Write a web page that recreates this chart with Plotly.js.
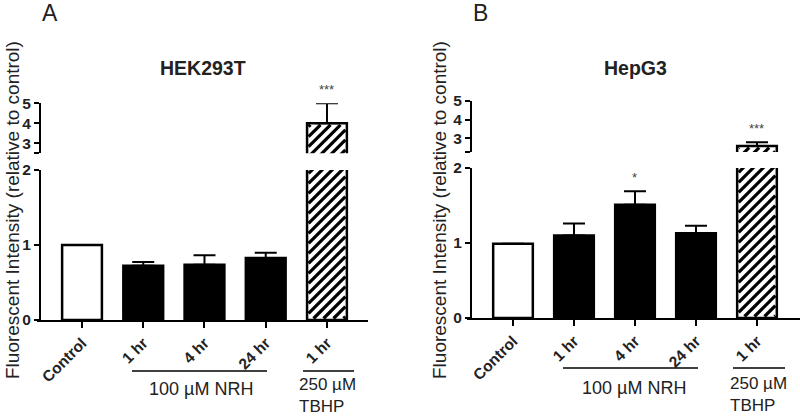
<!DOCTYPE html>
<html>
<head>
<meta charset="utf-8">
<script src="https://cdn.plot.ly/plotly-3.0.1.min.js"></script>
<style>html,body{margin:0;padding:0;background:#fff;}#chart{width:800px;height:417px;}</style>
</head>
<body>
<div id="chart"></div>
<script>
// ---- data ----
var categories = ["Control", "1 hr", "4 hr", "24 hr", "1 hr"];
var hekValues = [1.0, 0.724, 0.737, 0.827, 4.0];
var hekErrors = [0, 0.05, 0.125, 0.07, 1.0];
var hepValues = [0.99, 1.10, 1.51, 1.13, 2.57];
var hepErrors = [0, 0.16, 0.18, 0.10, 0.21];
var hekStars = ["", "", "", "", "***"];
var hepStars = ["", "", "*", "", "***"];
var lowerTicks = [0, 1, 2];
var upperTicksA = [2.5, 3, 4, 5];
var upperTicksB = [2.25, 3, 4, 5];
var upperTickText = ["", "3", "4", "5"];
var fillColors = ["white", "black", "black", "black", "white"];
var hatched = [false, false, false, false, true];

var FONT = "Liberation Sans, Arial, sans-serif";
var BAR_W = 0.65;
var idx = categories.map(function (c, i) { return i; });

function barTrace(xa, ya, vals, errs, wantHatch, withErr) {
  var xs = [], ys = [], es = [], em = [], cols = [];
  for (var i = 0; i < vals.length; i++) {
    if (hatched[i] !== wantHatch) continue;
    xs.push(i); ys.push(vals[i]);
    es.push(errs[i]); em.push(0);
    cols.push(fillColors[i]);
  }
  return {
    type: "bar", x: xs, y: ys, xaxis: xa, yaxis: ya, width: BAR_W,
    marker: { color: cols, line: { color: "black", width: 2.5 } },
    error_y: { type: "data", symmetric: false, array: es, arrayminus: em, color: "black", thickness: 2, width: 11, visible: withErr },
    showlegend: false, hoverinfo: "skip"
  };
}

var data = [
  barTrace("x", "y", hekValues, hekErrors, false, true),
  barTrace("x", "y", hekValues, hekErrors, true, false),
  barTrace("x", "y2", hekValues, hekErrors, true, true),
  barTrace("x2", "y3", hepValues, hepErrors, false, true),
  barTrace("x2", "y3", hepValues, hepErrors, true, false),
  barTrace("x2", "y4", hepValues, hepErrors, true, true)
];

function yAx(domain, range, tv, tt, pos) {
  return {
    domain: domain, range: range, anchor: "free", position: pos,
    tickmode: "array", tickvals: tv, ticktext: tt,
    showline: true, linecolor: "black", linewidth: 2,
    ticks: "outside", ticklen: 5, tickwidth: 2, tickcolor: "black",
    showgrid: false, zeroline: false,
    tickfont: { family: FONT, size: 15.5, color: "#222", weight: "bold" }
  };
}
function xAx(domain, range, anchor) {
  return {
    domain: domain, range: range, anchor: anchor,
    tickmode: "array", tickvals: idx, ticktext: categories,
    tickangle: -45,
    showline: true, linecolor: "black", linewidth: 2,
    ticks: "outside", ticklen: 6, tickwidth: 2, tickcolor: "black",
    showgrid: false, zeroline: false,
    tickfont: { family: FONT, size: 15.5, color: "#222", weight: "bold" }
  };
}

var annotations = [];
function starAnn(xa, yaLow, yaHigh, vals, errs, stars) {
  for (var i = 0; i < stars.length; i++) {
    if (!stars[i]) continue;
    annotations.push({
      xref: xa, yref: hatched[i] ? yaHigh : yaLow, x: i, y: vals[i] + errs[i],
      text: stars[i], showarrow: false, yanchor: "bottom", yshift: 4,
      font: { family: FONT, size: 13, color: "#444" }
    });
  }
}
starAnn("x", "y", "y2", hekValues, hekErrors, hekStars);
starAnn("x2", "y3", "y4", hepValues, hepErrors, hepStars);

function txt(x, y, t, size, opts) {
  var a = { xref: "paper", yref: "paper", x: x / 800, y: 1 - y / 417, text: t, showarrow: false,
    font: { family: FONT, size: size, color: "#222" }, xanchor: "center", yanchor: "middle" };
  for (var k in opts) a[k] = opts[k];
  annotations.push(a);
}
txt(50, 13, "A", 23, {});
txt(480, 13, "B", 23, {});
txt(203, 68, "<b>HEK293T</b>", 19.5, {});
txt(635, 68, "<b>HepG3</b>", 19.5, {});
txt(12, 210, "Fluorescent Intensity (relative to control)", 19, { textangle: -90 });
txt(439, 210, "Fluorescent Intensity (relative to control)", 19, { textangle: -90 });
txt(201, 389, "100 µM NRH", 18, {});
txt(634, 388, "100 µM NRH", 18, {});
txt(297, 395, "250 µM<br>TBHP", 17, { xanchor: "left", align: "left" });
txt(728, 394, "250 µM<br>TBHP", 17, { xanchor: "left", align: "left" });

function hline(x0, x1, y) {
  return { type: "line", xref: "paper", yref: "paper", x0: x0 / 800, x1: x1 / 800, y0: 1 - y / 417, y1: 1 - y / 417,
    line: { color: "black", width: 1.5 } };
}
var shapes = [hline(132, 267, 371), hline(303, 354, 371), hline(563, 698, 368), hline(733, 785, 368)];

var layout = {
  width: 800, height: 417, margin: { l: 0, r: 0, t: 0, b: 0 },
  paper_bgcolor: "white", plot_bgcolor: "rgba(0,0,0,0)",
  barmode: "overlay",
  xaxis: xAx([37 / 800, 368 / 800], [-0.735, 4.67], "y"),
  xaxis2: xAx([467 / 800, 1.0], [-0.754, 4.705], "y3"),
  yaxis: yAx([1 - 320 / 417, 1 - 170 / 417], [0, 2], lowerTicks, lowerTicks.map(String), 40 / 800),
  yaxis2: yAx([1 - 153.3 / 417, 1 - 103.3 / 417], [2.5, 5], upperTicksA, upperTickText, 40 / 800),
  yaxis3: yAx([1 - 318 / 417, 1 - 168 / 417], [0, 2], lowerTicks, lowerTicks.map(String), 471 / 800),
  yaxis4: yAx([1 - 152 / 417, 1 - 101 / 417], [2.25, 5], upperTicksB, upperTickText, 471 / 800),
  annotations: annotations,
  shapes: shapes
};

// diagonal hatch lines inside hatched bars, computed with the axes' own scales
function hatchTrace(gd, xName, yName, vals) {
  var fl = gd._fullLayout;
  var xa = fl[xName.replace("x", "xaxis")], ya = fl[yName.replace("y", "yaxis")];
  var kx = Math.abs(xa._m), ky = Math.abs(ya._m);
  var yr = ya.range;
  var xs = [], ys = [];
  var inset = 1.5;
  for (var i = 0; i < vals.length; i++) {
    if (!hatched[i]) continue;
    var X0 = (i - BAR_W / 2) * kx + inset, X1 = (i + BAR_W / 2) * kx - inset;
    var top = Math.min(vals[i], yr[1] + 1), bot = Math.max(0, yr[0] - 1);
    var Y0 = bot * ky + inset, Y1 = top * ky - inset;
    var step = 10;
    for (var c = Math.floor((Y0 - X1) / step) * step; c <= Y1 - X0; c += step) {
      var xa0 = Math.max(X0, Y0 - c), xa1 = Math.min(X1, Y1 - c);
      if (xa1 <= xa0) continue;
      xs.push(xa0 / kx, xa1 / kx, null);
      ys.push((xa0 + c) / ky, (xa1 + c) / ky, null);
    }
  }
  return { type: "scatter", mode: "lines", x: xs, y: ys, xaxis: xName, yaxis: yName,
    line: { color: "black", width: 3.2 }, showlegend: false, hoverinfo: "skip", cliponaxis: true };
}

var gd = document.getElementById("chart");
Plotly.newPlot(gd, data, layout, { staticPlot: true }).then(function () {
  var extra = [
    hatchTrace(gd, "x", "y", hekValues),
    hatchTrace(gd, "x", "y2", hekValues),
    hatchTrace(gd, "x2", "y3", hepValues),
    hatchTrace(gd, "x2", "y4", hepValues)
  ];
  return Plotly.addTraces(gd, extra);
});
</script>
</body>
</html>
